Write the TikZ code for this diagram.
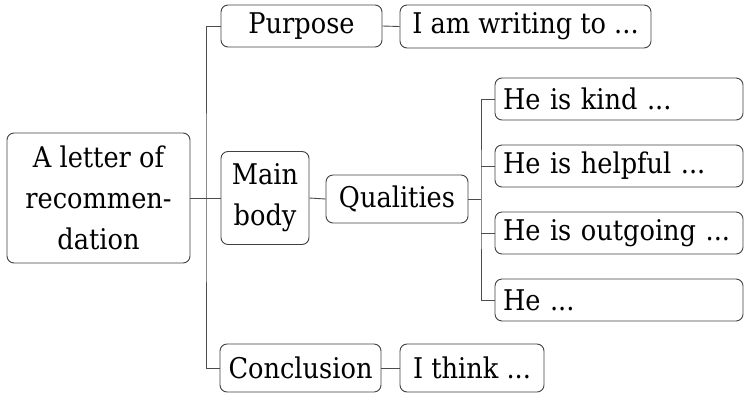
\documentclass[tikz,border=0pt]{standalone}
\usepackage{fontspec}
\setmainfont{DejaVu Serif Condensed}
\begin{document}
\begin{tikzpicture}[x=1pt,y=-1pt,
  box/.style={draw=black!75, line width=0.9pt, rounded corners=7pt, inner sep=0pt,
    font=\fontsize{28.5}{41}\selectfont, align=center},
  wbox/.style={box, text width=232pt, align=left, minimum width=248pt, minimum height=42pt},
  link/.style={draw=black!70, line width=0.9pt}]
\useasboundingbox (0,0) rectangle (751,397);
\node[box, minimum width=183pt, minimum height=130pt] (root) at (98.5,198) {A letter of\\recommen-\\dation};
\node[box, minimum width=161pt, minimum height=42pt] (purpose) at (301.5,26) {Purpose};
\node[box, minimum width=88pt, minimum height=93pt] (main) at (265,198) {Main\\body};
\node[box, minimum width=161pt, minimum height=48pt] (concl) at (300.5,368) {Conclusion};
\node[box, minimum width=251pt, minimum height=43pt] (write) at (525.5,26.5) {I am writing to ...};
\node[box, minimum width=144pt, minimum height=48pt] (think) at (472,368) {I think ...};
\node[box, minimum width=142pt, minimum height=48pt] (qual) at (397,199) {Qualities};
\node[wbox] (kind) at (619,99) {He is kind ...};
\node[wbox] (helpful) at (619,166) {He is helpful ...};
\node[wbox] (outgoing) at (619,233) {He is outgoing ...};
\node[wbox] (heend) at (619,300) {He ...};
\coordinate (qb) at (481,199);
\coordinate (mb) at (206,198);
\draw[link] (root.east) -- (main.west);
\draw[link] (purpose.west) -| (mb) |- (concl.west);
\draw[link] (purpose.east) -- (write.west);
\draw[link] (concl.east) -- (think.west);
\draw[link] (main.east) -- (qual.west);
\draw[link] (qual.east) -- (qb);
\draw[link] (kind.west) -| (qb) |- (heend.west);
\draw[link] (helpful.west) -- (helpful.west -| qb);
\draw[link] (outgoing.west) -- (outgoing.west -| qb);
\end{tikzpicture}
\end{document}
